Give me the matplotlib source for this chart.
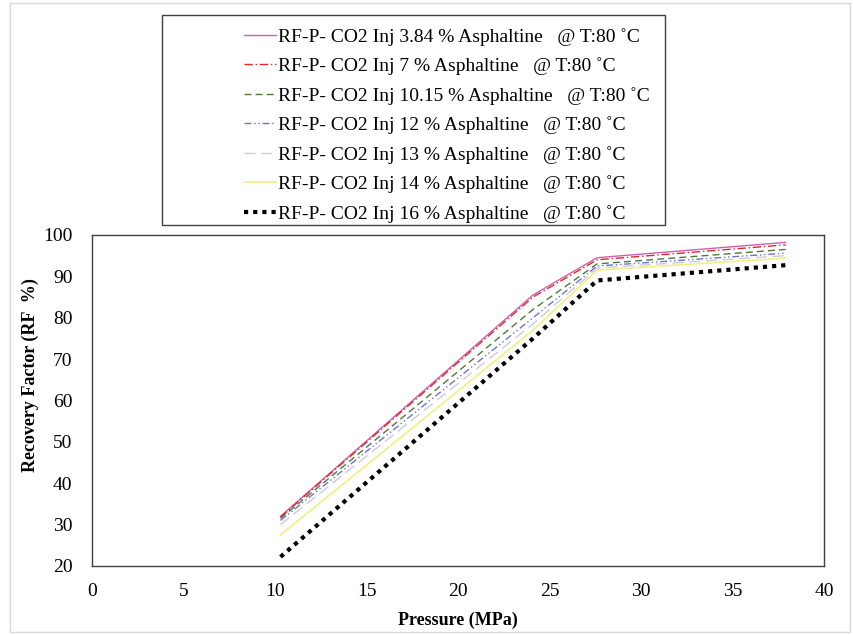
import matplotlib.pyplot as plt
from matplotlib.patches import Rectangle

plt.rcParams['font.family'] = ['Liberation Serif', 'DejaVu Serif']

pressure = [10.3, 24.1, 27.6, 37.9]

rf_384 = [32.0, 85.5, 94.5, 98.2]
rf_7 = [31.8, 85.0, 94.0, 97.6]
rf_1015 = [31.5, 82.0, 93.0, 96.5]
rf_12 = [31.0, 80.0, 92.5, 95.6]
rf_13 = [30.0, 78.5, 92.0, 95.0]
rf_14 = [27.5, 77.0, 91.5, 94.4]
rf_16 = [22.2, 75.0, 89.0, 92.7]

labels = [
    "RF-P- CO2 Inj 3.84 % Asphaltine   @ T:80 \u02daC",
    "RF-P- CO2 Inj 7 % Asphaltine   @ T:80 \u02daC",
    "RF-P- CO2 Inj 10.15 % Asphaltine   @ T:80 \u02daC",
    "RF-P- CO2 Inj 12 % Asphaltine   @ T:80 \u02daC",
    "RF-P- CO2 Inj 13 % Asphaltine   @ T:80 \u02daC",
    "RF-P- CO2 Inj 14 % Asphaltine   @ T:80 \u02daC",
    "RF-P- CO2 Inj 16 % Asphaltine   @ T:80 \u02daC",
]

series = [rf_384, rf_7, rf_1015, rf_12, rf_13, rf_14, rf_16]
styles = [
    dict(color='#D060B0', ls='-', lw=1.0),
    dict(color='#E02828', ls=(0, (6, 2, 1, 2)), lw=1.0),
    dict(color='#4E7A3A', ls=(0, (5, 3)), lw=1.0),
    dict(color='#7070D8', ls=(0, (5, 2, 1, 2, 1, 2)), lw=1.0),
    dict(color='#C8CCDC', ls=(0, (8, 4)), lw=1.0),
    dict(color='#F4EE80', ls='-', lw=1.2),
    dict(color='black', ls=(0, (1, 1.2)), lw=3.0),
]

fig = plt.figure(figsize=(8.54, 6.35), dpi=100)
ax = fig.add_axes([0.1077, 0.1087, 0.8572, 0.5213])

handles = []
for y, st, lab in zip(series, styles, labels):
    h, = ax.plot(pressure, y, label=lab, **st)
    handles.append(h)

ax.set_xlim(0, 40)
ax.set_ylim(20, 100)
ax.set_xticks(range(0, 41, 5))
ax.set_yticks(range(20, 101, 10))
ax.tick_params(axis='y', length=0, labelsize=14, pad=14)
ax.tick_params(axis='x', length=0, labelsize=14, pad=12)
for s in ax.spines.values():
    s.set_color('#404040')
    s.set_linewidth(1.0)

ax.set_xlabel('Pressure (MPa)', fontsize=13, fontweight='bold')
ax.set_ylabel('Recovery Factor (RF  %)', fontsize=13, fontweight='bold')
ax.xaxis.set_label_coords(0.5, -(612 - 566) / 331)
ax.yaxis.set_label_coords(-(92 - 39) / 732, 0.577)

# legend box
fig.patches.append(Rectangle((162 / 854, 1 - 225 / 635), (665 - 162) / 854, 210 / 635,
                             transform=fig.transFigure, fill=False,
                             edgecolor='#404040', lw=1.0))
fig.legend(handles=handles, loc='upper left', bbox_to_anchor=(234 / 854, 1 - 18 / 635),
           frameon=False, fontsize=14, handlelength=1.65, handletextpad=0.1,
           labelspacing=0.6, borderpad=0)

# outer border
fig.patches.append(Rectangle((10 / 854, 3 / 635), 840 / 854, 629 / 635,
                             transform=fig.transFigure, fill=False,
                             edgecolor='#D9D9D9', lw=1.0))

fig.savefig('out.png', dpi=100)
